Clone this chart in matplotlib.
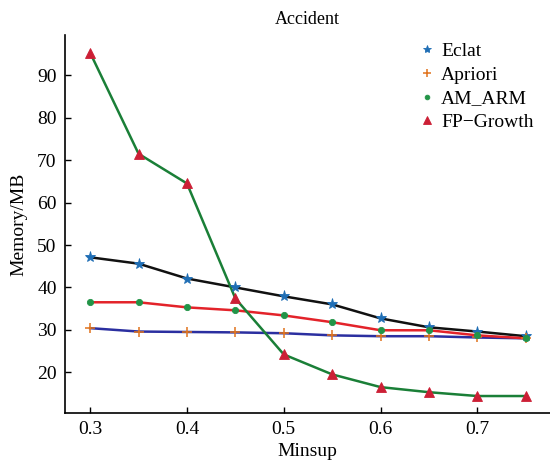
import matplotlib
matplotlib.use("Agg")
import matplotlib.pyplot as plt

plt.rcParams['font.family'] = ['Liberation Serif', 'DejaVu Serif']

minsup = [0.3, 0.35, 0.4, 0.45, 0.5, 0.55, 0.6, 0.65, 0.7, 0.75]
eclat = [47.1, 45.6, 42.1, 40.0, 37.9, 36.0, 32.7, 30.6, 29.6, 28.5]
apriori = [30.4, 29.6, 29.5, 29.4, 29.2, 28.7, 28.5, 28.5, 28.2, 28.0]
am_arm = [36.5, 36.5, 35.3, 34.6, 33.4, 31.8, 29.9, 29.9, 28.7, 28.0]
fp_growth = [95.3, 71.5, 64.5, 37.4, 24.2, 19.5, 16.5, 15.3, 14.4, 14.4]

series = [
    ("Eclat", eclat, '#111111', '#1f6eb5', '*', 8),
    ("Apriori", apriori, '#2b2fa0', '#e0731c', '+', 7),
    ("AM_ARM", am_arm, '#e3232a', '#229447', 'o', 4.5),
    ("FP\u2212Growth", fp_growth, '#1a7f37', '#cc1f35', '^', 7),
]

fig = plt.figure(figsize=(5.5, 4.66), dpi=100)
ax = fig.add_axes([65/550, 1-413/466, 1-65/550, (413-35)/466])

for name, vals, lc, mc, mk, ms in series:
    ax.plot(minsup, vals, color=lc, lw=1.8, zorder=2)
for name, vals, lc, mc, mk, ms in series:
    ax.plot(minsup, vals, linestyle='none', marker=mk, color=mc,
            markersize=ms, markeredgewidth=1.1 if mk == '+' else 0.6,
            label=name, zorder=3)

ax.set_xlim(0.274, 0.775)
ax.set_ylim(10.4, 99.5)
ax.set_xticks([0.3, 0.4, 0.5, 0.6, 0.7])
ax.set_yticks([20, 30, 40, 50, 60, 70, 80, 90])
ax.tick_params(direction='in', labelsize=14, length=4, width=1, pad=6)
for s in ['top', 'right']:
    ax.spines[s].set_visible(False)
for s in ['left', 'bottom']:
    ax.spines[s].set_linewidth(1.2)

ax.set_xlabel("Minsup", fontsize=14, labelpad=3)
ax.set_ylabel("Memory/MB", fontsize=14, labelpad=7)
ax.set_title("Accident", fontsize=13, pad=8)

leg = ax.legend(loc='upper right', bbox_to_anchor=(0.99, 1.012), frameon=False,
                fontsize=14, handlelength=0.6, handletextpad=0.4,
                labelspacing=0.32, borderaxespad=0.2, markerscale=0.75)

fig.savefig("out.png", dpi=100)
